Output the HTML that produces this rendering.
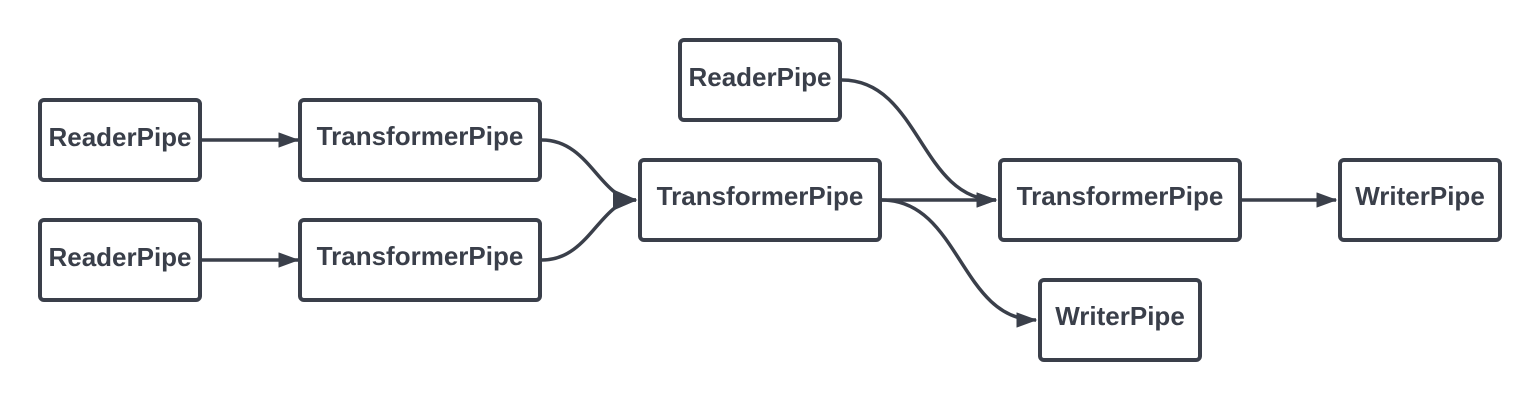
<!DOCTYPE html>
<html><head><style>body{margin:0;background:#fff}svg{display:block}</style></head>
<body>
<svg width="1540" height="400" xmlns="http://www.w3.org/2000/svg">
<defs>
<marker id="a" markerWidth="6" markerHeight="4.4" refX="5.6" refY="2.2" orient="auto" markerUnits="strokeWidth"><path d="M0,0 L6,2.2 L0,4.4 z" fill="#3a3f4a"/></marker>
<marker id="b" markerWidth="7" markerHeight="6" refX="6.6" refY="3" orient="auto" markerUnits="strokeWidth"><path d="M0,0 L7,3 L0,6 z" fill="#3a3f4a"/></marker>
</defs>
<g fill="none" stroke="#3a3f4a" stroke-width="3.5">
<path d="M202,140 L298,140" marker-end="url(#a)"/>
<path d="M202,260 L298,260" marker-end="url(#a)"/>
<path d="M542,140 C590,140 600,200 636,200" marker-end="url(#b)"/>
<path d="M542,260 C590,260 600,200 636,200" marker-end="url(#b)"/>
<path d="M842,80 C920,80 920,200 996,200" marker-end="url(#a)"/>
<path d="M882,200 L996,200" marker-end="url(#a)"/>
<path d="M882,200 C960,200 960,320 1036,320" marker-end="url(#a)"/>
<path d="M1242,200 L1336,200" marker-end="url(#a)"/>
</g>
<g fill="#fff" stroke="#3a3f4a" stroke-width="4">
<rect x="40" y="100" width="160" height="80" rx="4"/>
<rect x="300" y="100" width="240" height="80" rx="4"/>
<rect x="40" y="220" width="160" height="80" rx="4"/>
<rect x="300" y="220" width="240" height="80" rx="4"/>
<rect x="640" y="160" width="240" height="80" rx="4"/>
<rect x="680" y="40" width="160" height="80" rx="4"/>
<rect x="1000" y="160" width="240" height="80" rx="4"/>
<rect x="1340" y="160" width="160" height="80" rx="4"/>
<rect x="1040" y="280" width="160" height="80" rx="4"/>
</g>
<g font-family="Liberation Sans, sans-serif" font-weight="bold" font-size="26" fill="#3a3f4a" text-anchor="middle">
<text x="120" y="146">ReaderPipe</text>
<text x="420" y="145">TransformerPipe</text>
<text x="120" y="266">ReaderPipe</text>
<text x="420" y="265">TransformerPipe</text>
<text x="760" y="205">TransformerPipe</text>
<text x="760" y="86">ReaderPipe</text>
<text x="1120" y="205">TransformerPipe</text>
<text x="1420" y="205">WriterPipe</text>
<text x="1120" y="325">WriterPipe</text>
</g>
</svg>
</body></html>
